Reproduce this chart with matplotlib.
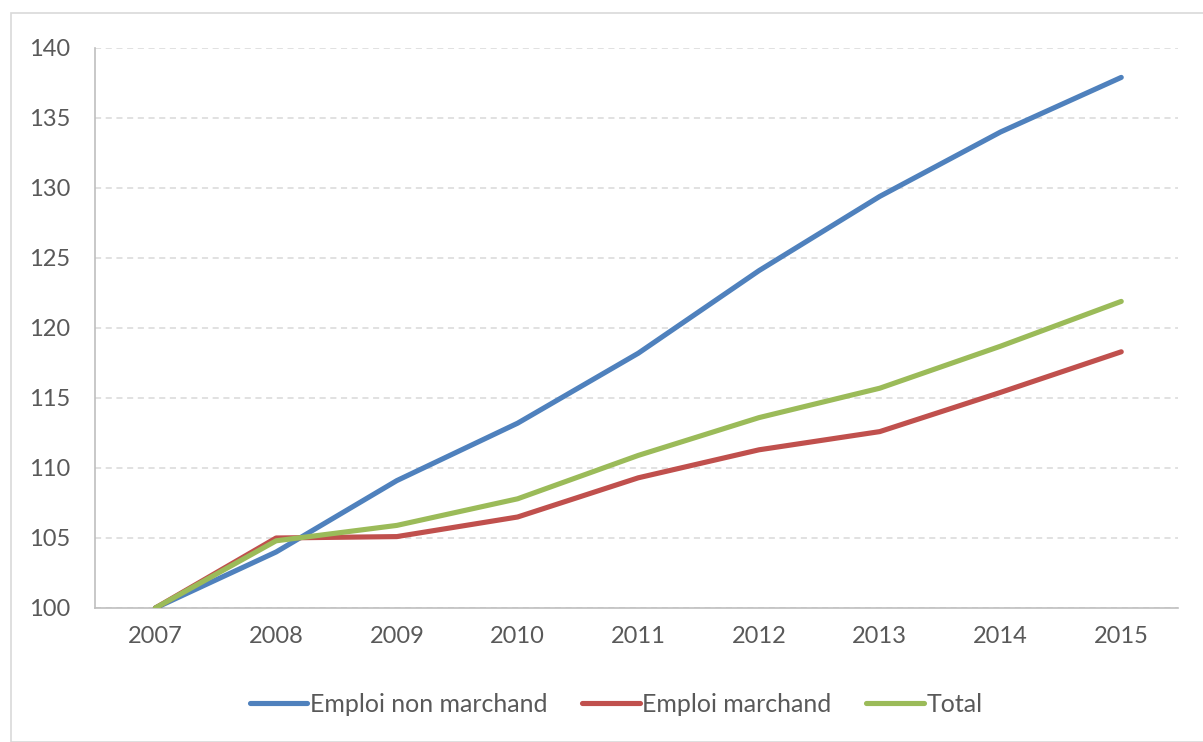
import matplotlib.pyplot as plt
from matplotlib.patches import Rectangle

plt.rcParams['font.family'] = ['Lato', 'DejaVu Sans']

years = [2007, 2008, 2009, 2010, 2011, 2012, 2013, 2014, 2015]
non_marchand = [100, 104.0, 109.1, 113.2, 118.2, 124.1, 129.4, 134.0, 137.9]
marchand = [100, 105.0, 105.1, 106.5, 109.3, 111.3, 112.6, 115.4, 118.3]
total = [100, 104.8, 105.9, 107.8, 110.9, 113.6, 115.7, 118.7, 121.9]
y_ticks = [100, 105, 110, 115, 120, 125, 130, 135, 140]

fig = plt.figure(figsize=(12.03, 7.42), dpi=100)
W, H = 1203, 742
ax = fig.add_axes([95 / W, 134 / H, (1178 - 95) / W, 560 / H])

# outer chart frame
fig.patches.append(Rectangle((11 / W, 0.0), 1.5, (H - 13) / H, transform=fig.transFigure,
                             fill=False, edgecolor="#D9D9D9", linewidth=1.2))

ax.plot(years, non_marchand, color="#4F81BD", linewidth=3.7, solid_capstyle="round",
        label="Emploi non marchand", zorder=3)
ax.plot(years, marchand, color="#C0504D", linewidth=3.7, solid_capstyle="round",
        label="Emploi marchand", zorder=3)
ax.plot(years, total, color="#9BBB59", linewidth=3.7, solid_capstyle="round",
        label="Total", zorder=3)

ax.set_xlim(2006.5, 2015.47)
ax.set_ylim(100, 140)
ax.set_yticks(y_ticks)
ax.set_xticks(years)
ax.set_xticklabels([str(y) for y in years])

ax.grid(axis="y", color="#D9D9D9", linestyle=(0, (4, 3)), linewidth=1.1)
ax.set_axisbelow(True)
for s in ["top", "right"]:
    ax.spines[s].set_visible(False)
for s in ["left", "bottom"]:
    ax.spines[s].set_color("#BFBFBF")
    ax.spines[s].set_linewidth(1.2)
ax.tick_params(length=0, labelsize=17, colors="#595959")
ax.tick_params(axis="y", pad=18)
ax.tick_params(axis="x", pad=13)

leg = fig.legend(loc="center", bbox_to_anchor=(616 / W, 1 - 704 / H), ncol=3, frameon=False,
                 fontsize=18, handlelength=2.3, handletextpad=0.1, columnspacing=1.4)
for t in leg.get_texts():
    t.set_color("#595959")

fig.savefig("out.png", dpi=100)
